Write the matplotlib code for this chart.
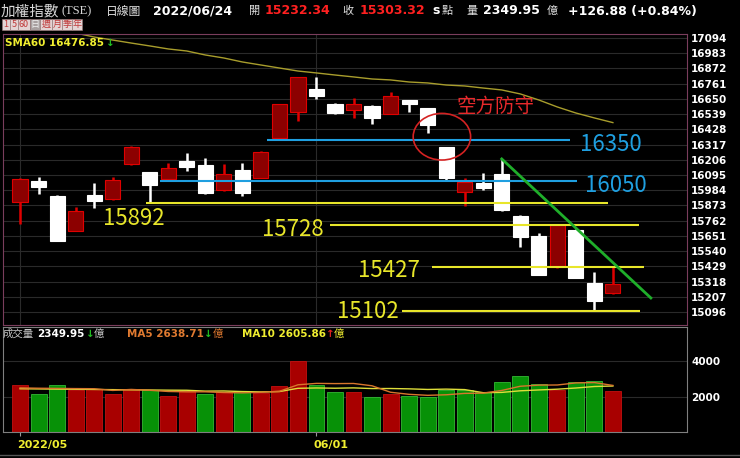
import numpy as np
from matplotlib import pyplot as plt
from matplotlib.patches import Ellipse, Rectangle
from matplotlib.lines import Line2D
import matplotlib.transforms as mtransforms

CJK = ['Noto Sans CJK TC', 'DejaVu Sans']
plt.rcParams['font.family'] = CJK

W, H = 740, 458

# DATA

dias = list(range(33))
abre = [15898, 16053, 15944, 15689, 15949, 15920, 16175, 16114, 16064, 16197, 16168,
        15985, 16131, 16075, 16367, 16557, 16720, 16611, 16569, 16598, 16540, 16642,
        16581, 16297, 15973, 16039, 16102, 15796, 15650, 15422, 15694, 15309, 15232.34]
maxima = [16075, 16083, 15950, 15864, 16034, 16083, 16309, 16118, 16185, 16253, 16221,
          16173, 16180, 16270, 16615, 16812, 16812, 16622, 16654, 16602, 16698, 16645,
          16585, 16300, 16071, 16107, 16212, 15800, 15670, 15734, 15698, 15385, 15422]
minima = [15737, 15954, 15612, 15685, 15852, 15915, 16170, 15896, 16060, 16124, 15955,
          15980, 15944, 16070, 16362, 16491, 16647, 16538, 16508, 16467, 16536, 16557,
          16403, 16058, 15869, 15985, 15835, 15572, 15362, 15418, 15342, 15103, 15228]
fecha = [16066, 16010, 15616, 15835, 15905, 16058, 16301, 16022, 16148, 16155, 15961,
         16102, 15961, 16265, 16611, 16807, 16673, 16545, 16611, 16513, 16671, 16613,
         16460, 16071, 16042, 15998, 15840, 15645, 15366, 15730, 15346, 15176, 15303.32]
sma60 = [17205, 17180, 17155, 17130, 17101, 17079, 17057, 17036, 17014, 16999, 16970,
         16948, 16919, 16897, 16875, 16853, 16839, 16824, 16810, 16795, 16788, 16773,
         16766, 16751, 16744, 16729, 16715, 16686, 16642, 16591, 16547, 16511, 16476.85]

volume = [2640, 2153, 2640, 2397, 2436, 2153, 2436, 2397, 2057, 2340, 2153, 2244, 2300,
          2210, 2623, 4000, 2640, 2244, 2244, 1960, 2170, 2057, 1960, 2397, 2357, 2244,
          2810, 3150, 2720, 2397, 2833, 2907, 2349.95]
vol_sobe = [1, 0, 0, 1, 1, 1, 1, 0, 1, 1, 0, 1, 0, 1, 1, 1, 0, 0, 1, 0, 1, 0, 0, 0, 0,
            0, 0, 0, 0, 1, 0, 0, 1]
ma5 = [2500, 2480, 2470, 2460, 2453, 2356, 2412, 2364, 2296, 2277, 2277, 2238, 2219,
       2249, 2306, 2675, 2755, 2743, 2750, 2618, 2252, 2135, 2078, 2109, 2188, 2203,
       2354, 2592, 2656, 2664, 2782, 2801, 2638.71]
ma10 = [2450, 2440, 2430, 2420, 2410, 2400, 2390, 2380, 2370, 2365, 2316, 2325, 2291,
        2273, 2291, 2476, 2496, 2481, 2500, 2462, 2464, 2445, 2411, 2430, 2403, 2227,
        2244, 2335, 2383, 2426, 2493, 2578, 2605.86]

precos_ticks = [17094, 16983, 16872, 16761, 16650, 16539, 16428, 16317, 16206, 16095,
                15984, 15873, 15762, 15651, 15540, 15429, 15318, 15207, 15096]
vol_ticks = [2000, 4000]
datas_pos = [0, 16]
datas_txt = ['2022/05', '06/01']

# linhas desenhadas a mao no grafico
niveis = [16350, 16050, 15892, 15728, 15427, 15102]
niveis_ini = [13.33, 7.56, 6.8, 16.73, 22.23, 20.62]
niveis_fim = [29.68, 30.06, 31.73, 33.4, 33.68, 33.46]
niveis_cor = ['#1f9fe0', '#1f9fe0', '#e8e62a', '#e8e62a', '#e8e62a', '#e8e62a']
rotulo_x = [30.22, 30.49, 4.48, 13.06, 18.24, 17.11]
rotulo_y = [16314, 16015, 15781, 15701, 15402, 15103]
tend_x = [26, 34.05]
tend_y = [16212, 15198]

# PLOT

fig = plt.figure(figsize=(W / 100, H / 100), dpi=100, facecolor='black')


def fig_txt(x, y, s, **kw):
    fig.text(x / W, 1 - y / H, s, va='center', ha='left', **kw)


ax = fig.add_axes([3 / W, (H - 325) / H, 684 / W, 291 / H])
ax.set_facecolor('black')
ax.set_xlim(-0.92, 36.0)
ax.set_ylim(15001, 17123)
for s in ax.spines.values():
    s.set_color('#7a3d5c')
ax.yaxis.tick_right()
ax.set_yticks(precos_ticks)
ax.set_yticklabels([str(t) for t in precos_ticks], color='white', fontsize=7.5,
                   fontweight='bold', family='DejaVu Sans')
ax.tick_params(axis='y', length=0, pad=3)
ax.set_xticks(datas_pos)
ax.set_xticklabels([])
ax.tick_params(axis='x', length=0)
ax.grid(color='#2a2a2a', linewidth=0.8)
ax.set_axisbelow(True)

sobe = [c > o for o, c in zip(abre, fecha)]
cor_corpo = ['#8c0000' if u else 'white' for u in sobe]
cor_pavio = ['#e00000' if u else 'white' for u in sobe]
ax.vlines(dias, minima, maxima, colors=cor_pavio, linewidth=1.8, zorder=2)
ax.bar(dias, [abs(c - o) for o, c in zip(abre, fecha)],
       bottom=[min(o, c) for o, c in zip(abre, fecha)], width=0.82,
       color=cor_corpo, edgecolor=cor_pavio, linewidth=0.8, zorder=3)

ax.plot(dias, sma60, color='#a89d2c', linewidth=1, zorder=2.5)

ax.hlines(niveis, niveis_ini, niveis_fim, colors=niveis_cor, linewidth=1.5, zorder=4)
for i in range(len(niveis)):
    ax.text(rotulo_x[i], rotulo_y[i], str(niveis[i]), color=niveis_cor[i],
            fontsize=16, va='center', ha='left', zorder=5)

ax.plot(tend_x, tend_y, color='#1fae2a', linewidth=2, zorder=4)
ax.add_patch(Ellipse((22.77, 16374), 3.1, 340, fill=False, edgecolor='#d42222',
                     linewidth=1.2, zorder=5))
ax.text(23.58, 16598, '空方防守', color='#e8292b', fontsize=14, va='center', ha='left')

ax.text(0.003, 0.97, 'SMA60 16476.85', transform=ax.transAxes, color='#f0ee30',
        fontsize=7.5, fontweight='bold', family='DejaVu Sans', va='center')
ax.text(0.151, 0.97, '↓', transform=ax.transAxes, color='#22c022',
        fontsize=7.5, fontweight='bold', family='DejaVu Sans', va='center')

# volume
axv = fig.add_axes([3 / W, (H - 432) / H, 684 / W, 105 / H])
axv.set_facecolor('black')
axv.set_xlim(-0.92, 36.0)
axv.set_ylim(0, 5950)
for s in axv.spines.values():
    s.set_color('#7f7f7f')
cor_vol = ['#a80000' if u else '#079107' for u in vol_sobe]
borda_vol = ['#c41010' if u else '#34b834' for u in vol_sobe]
axv.bar(dias, volume, width=0.86, color=cor_vol, edgecolor=borda_vol, linewidth=0.6, zorder=2)
axv.plot(dias, ma10, color='#dede3a', linewidth=1, zorder=3)
axv.plot(dias, ma5, color='#d8762c', linewidth=1, zorder=3)
axv.yaxis.tick_right()
axv.set_yticks(vol_ticks)
axv.set_yticklabels([str(t) for t in vol_ticks], color='white', fontsize=7.5,
                    fontweight='bold', family='DejaVu Sans')
axv.tick_params(axis='y', length=0, pad=3)
axv.grid(axis='y', color='#2a2a2a', linewidth=0.8)
axv.set_axisbelow(True)
axv.set_xticks(datas_pos)
axv.set_xticklabels(datas_txt, color='#f0ee30', fontsize=8, fontweight='bold',
                    family='DejaVu Sans')
axv.tick_params(axis='x', length=3, color='#9a9a9a', pad=3)
for lab in axv.get_xticklabels():
    lab.set_ha('left')
    lab.set_transform(lab.get_transform() + mtransforms.ScaledTranslation(-0.03, 0, fig.dpi_scale_trans))

# cabecalho do volume
fig_txt(3, 334, '成交量', color='#c8c8c8', fontsize=7.5)
fig_txt(37, 334, '2349.95', color='white', fontsize=7.5, fontweight='bold', family='DejaVu Sans')
fig_txt(86, 334, '↓', color='#22c022', fontsize=7.5, fontweight='bold', family='DejaVu Sans')
fig_txt(94, 334, '億', color='#c8c8c8', fontsize=7.5)
fig_txt(127, 334, 'MA5 2638.71', color='#e07a30', fontsize=7.5, fontweight='bold', family='DejaVu Sans')
fig_txt(204, 334, '↓', color='#22c022', fontsize=7.5, fontweight='bold', family='DejaVu Sans')
fig_txt(213, 334, '億', color='#e07a30', fontsize=7.5)
fig_txt(242, 334, 'MA10 2605.86', color='#f0ee30', fontsize=7.5, fontweight='bold', family='DejaVu Sans')
fig_txt(326, 334, '↑', color='#e02020', fontsize=7.5, fontweight='bold', family='DejaVu Sans')
fig_txt(334, 334, '億', color='#f0ee30', fontsize=7.5)

# cabecalho principal
num = dict(fontsize=9, fontweight='bold', family='DejaVu Sans')
fig_txt(1, 11, '加權指數', color='#d8d8d8', fontsize=10.5)
fig_txt(61, 11, '(TSE)', color='#d8d8d8', fontsize=9, family='Liberation Serif')
fig_txt(106, 11, '日線圖', color='#e0e0e0', fontsize=8.5)
fig_txt(153, 11, '2022/06/24', color='white', **num)
fig_txt(249, 11, '開', color='#e0e0e0', fontsize=8)
fig_txt(265, 11, '15232.34', color='#ff2020', **num)
fig_txt(342, 11, '收', color='#e0e0e0', fontsize=8)
fig_txt(360, 11, '15303.32', color='#ff2020', **num)
fig_txt(432, 11, 's', color='white', **num)
fig_txt(442, 11, '點', color='#e0e0e0', fontsize=8)
fig_txt(466, 11, '量', color='#e0e0e0', fontsize=8)
fig_txt(483, 11, '2349.95', color='white', **num)
fig_txt(547, 11, '億', color='#e0e0e0', fontsize=8)
fig_txt(568, 11, '+126.88 (+0.84%)', color='white', **num)

# botoes de periodo
botoes = ['1', '5', '60', '日', '週', '月', '季', '年']
bx = [2, 10, 18, 30, 40, 52, 62, 72]
bw = [8, 8, 12, 10, 12, 10, 10, 10]
for b, x0, w in zip(botoes, bx, bw):
    fundo = '#a8a0a0' if b == '日' else '#e4d4d4'
    fig.add_artist(Rectangle((x0 / W, 1 - 30 / H), w / W, 11 / H, transform=fig.transFigure,
                             facecolor=fundo, edgecolor='#9a7a7a', linewidth=0.4))
    fig.text((x0 + w / 2) / W, 1 - 24.5 / H, b, ha='center', va='center',
             color='#f0f0f0' if b == '日' else '#c03a3a', fontsize=6.5)

fig.add_artist(Line2D([0, 1], [1 - 455 / H, 1 - 455 / H], transform=fig.transFigure,
                      color='#555555', linewidth=1))

plt.savefig('out.png', dpi=100, facecolor='black')
